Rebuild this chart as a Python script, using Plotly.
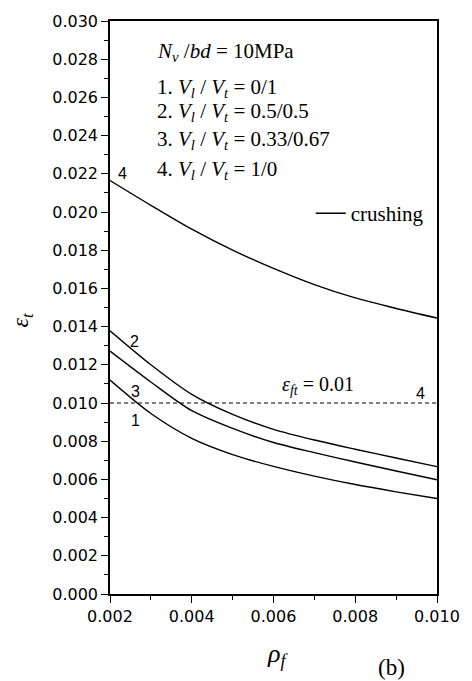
import plotly.graph_objects as go

# Data
rho_f = [0.002, 0.003, 0.004, 0.005, 0.006, 0.007, 0.008, 0.009, 0.010]
eps_1 = [0.01120, 0.00945, 0.00815, 0.00730, 0.00668, 0.00617, 0.00573, 0.00535, 0.00500]
eps_2 = [0.01378, 0.01200, 0.01045, 0.00940, 0.00862, 0.00806, 0.00758, 0.00712, 0.00667]
eps_3 = [0.01272, 0.01110, 0.00960, 0.00867, 0.00793, 0.00740, 0.00691, 0.00644, 0.00598]
eps_4 = [0.02165, 0.02035, 0.01910, 0.01800, 0.01705, 0.01620, 0.01550, 0.01495, 0.01445]
eps_ft = [0.010, 0.010]
eps_ft_x = [0.002, 0.010]

x_ticks = [0.002, 0.004, 0.006, 0.008, 0.010]
y_ticks = [0.000, 0.002, 0.004, 0.006, 0.008, 0.010, 0.012, 0.014, 0.016,
           0.018, 0.020, 0.022, 0.024, 0.026, 0.028, 0.030]

legend_lines = [
    "<i>N</i><sub><i>v</i></sub> /<i>bd</i> = 10MPa",
    "1. <i>V</i><sub><i>l</i></sub> / <i>V</i><sub><i>t</i></sub> = 0/1",
    "2. <i>V</i><sub><i>l</i></sub> / <i>V</i><sub><i>t</i></sub> = 0.5/0.5",
    "3. <i>V</i><sub><i>l</i></sub> / <i>V</i><sub><i>t</i></sub> = 0.33/0.67",
    "4. <i>V</i><sub><i>l</i></sub> / <i>V</i><sub><i>t</i></sub> = 1/0",
]
legend_y = [0.02840, 0.02648, 0.02523, 0.02376, 0.02220]

BLACK = "black"
SERIF = "Liberation Serif"
SANS = "Liberation Sans"

fig = go.Figure()
line = dict(color=BLACK, width=1.4, shape="spline", smoothing=0.8)
fig.add_trace(go.Scatter(x=rho_f, y=eps_1, mode="lines", line=line, showlegend=False))
fig.add_trace(go.Scatter(x=rho_f, y=eps_2, mode="lines", line=line, showlegend=False))
fig.add_trace(go.Scatter(x=rho_f, y=eps_3, mode="lines", line=line, showlegend=False))
fig.add_trace(go.Scatter(x=rho_f, y=eps_4, mode="lines", line=line,
                         name="crushing", showlegend=True))
fig.add_trace(go.Scatter(x=eps_ft_x, y=eps_ft, mode="lines",
                         line=dict(color=BLACK, width=1.1, dash="4px,3px"), showlegend=False))

annotations = []
for txt, yy in zip(legend_lines, legend_y):
    annotations.append(dict(x=0.00309, y=yy, xref="x", yref="y", text=txt, showarrow=False,
                            xanchor="left", yanchor="middle",
                            font=dict(family=SERIF, size=21, color=BLACK)))

num_labels = [("4", 0.00231, 0.02200), ("2", 0.00261, 0.01321), ("3", 0.00262, 0.01058),
              ("1", 0.00263, 0.00906), ("4", 0.00959, 0.01049)]
for t, xx, yy in num_labels:
    annotations.append(dict(x=xx, y=yy, xref="x", yref="y", text=t, showarrow=False,
                            xanchor="center", yanchor="middle",
                            font=dict(family=SANS, size=16, color=BLACK)))

annotations.append(dict(x=0.00615, y=0.01094, xref="x", yref="y",
                        text="<i>ε</i><sub><i>ft</i></sub> = 0.01", showarrow=False,
                        xanchor="left", yanchor="middle",
                        font=dict(family=SERIF, size=20, color=BLACK)))
annotations.append(dict(x=-0.268, y=0.478, xref="paper", yref="paper",
                        text="<i>ε</i><sub><i>t</i></sub>", showarrow=False, textangle=-90,
                        xanchor="center", yanchor="middle",
                        font=dict(family=SERIF, size=24, color=BLACK)))
annotations.append(dict(x=0.513, y=-0.106, xref="paper", yref="paper",
                        text="<i>ρ</i><sub><i>f</i></sub>", showarrow=False,
                        xanchor="center", yanchor="middle",
                        font=dict(family=SERIF, size=26, color=BLACK)))
annotations.append(dict(x=0.860, y=-0.1286, xref="paper", yref="paper",
                        text="(b)", showarrow=False,
                        xanchor="center", yanchor="middle",
                        font=dict(family=SERIF, size=23, color=BLACK)))

axis_common = dict(showgrid=False, zeroline=False, showline=True, linecolor=BLACK, linewidth=1.5,
                   mirror=True, ticks="outside", tickcolor=BLACK, tickwidth=1.2, ticklen=7,
                   tickfont=dict(family="DejaVu Sans", size=16, color=BLACK),
                   tickformat=".3f")

fig.update_xaxes(range=[0.002, 0.010], tickvals=x_ticks,
                 minor=dict(ticks="outside", dtick=0.001, tick0=0.002, ticklen=4,
                            tickcolor=BLACK, tickwidth=1), **axis_common)
fig.update_yaxes(range=[0.0, 0.030], tickvals=y_ticks,
                 minor=dict(ticks="outside", dtick=0.001, tick0=0.0, ticklen=4,
                            tickcolor=BLACK, tickwidth=1), **axis_common)

fig.update_layout(
    width=472, height=681,
    margin=dict(l=110, r=25, t=16, b=87),
    paper_bgcolor="white", plot_bgcolor="white",
    annotations=annotations,
    legend=dict(x=0.614, y=0.664, xanchor="left", yanchor="middle",
                bgcolor="rgba(0,0,0,0)", borderwidth=0,
                font=dict(family=SERIF, size=21, color=BLACK),
                itemwidth=30),
)

fig.write_html("out.html", config={"displayModeBar": False},
               post_script="document.body.style.margin='0px';document.body.style.overflow='hidden';")
